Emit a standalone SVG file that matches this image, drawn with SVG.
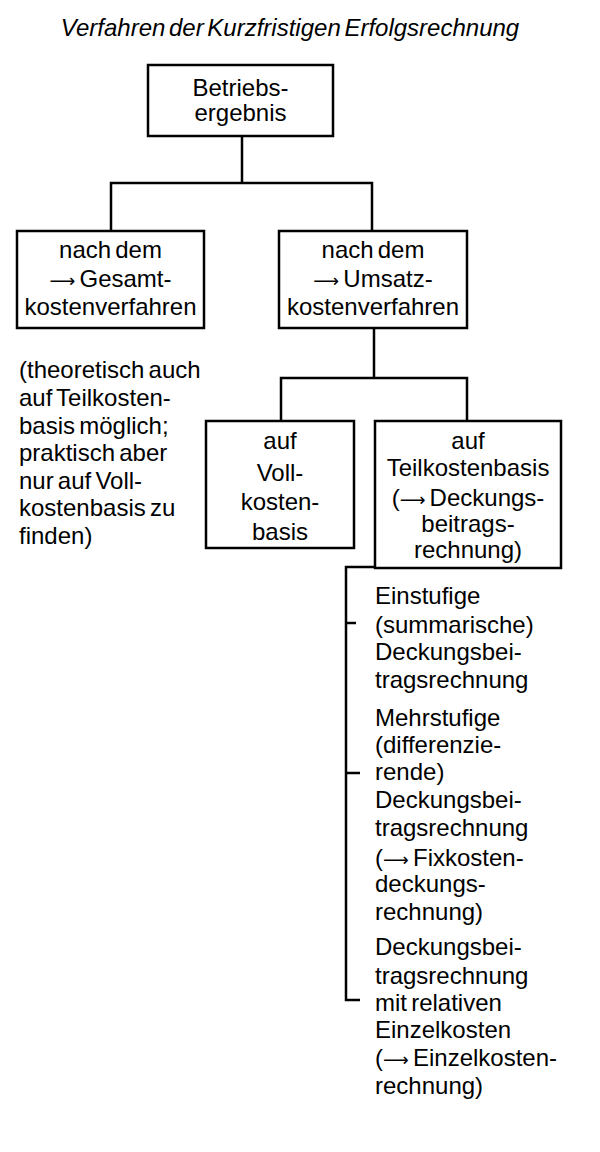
<svg xmlns="http://www.w3.org/2000/svg" width="600" height="1152" viewBox="0 0 600 1152">
<style>
text{font-family:"Liberation Sans",Arial,sans-serif;font-size:24px;fill:#000;word-spacing:-2.5px}
.c{text-anchor:middle}
.t{font-style:italic;font-size:24px;word-spacing:-3px}
.a{font-family:"DejaVu Sans",sans-serif;font-size:18px}
rect{fill:#fff;stroke:#000;stroke-width:2.5}
.l{fill:none;stroke:#000;stroke-width:2.5}
</style>
<rect x="0" y="0" width="600" height="1152" style="stroke:none"/>
<text class="t c" x="290" y="36">Verfahren der Kurzfristigen Erfolgsrechnung</text>
<g id="connectors">
<path class="l" d="M242 136V183M111 231V183H372V231"/>
<path class="l" d="M374 328V378M281 421V378H467V421"/>
<path class="l" d="M375 567H346V1000H360M346 623H356M346 773H360"/>
</g>
<g id="betriebsergebnis">
<rect x="148" y="65" width="185" height="71"/>
<text class="c" x="240.5" y="96">Betriebs-</text>
<text class="c" x="240.5" y="121">ergebnis</text>
</g>
<g id="gesamtkosten">
<rect x="17" y="231" width="187" height="97"/>
<text class="c" x="110.5" y="258">nach dem</text>
<text class="c" x="110.5" y="287"><tspan class="a">⟶</tspan> Gesamt-</text>
<text class="c" x="110.5" y="315">kostenverfahren</text>
</g>
<g id="umsatzkosten">
<rect x="279" y="231" width="188" height="97"/>
<text class="c" x="373" y="258">nach dem</text>
<text class="c" x="373" y="287"><tspan class="a">⟶</tspan> Umsatz-</text>
<text class="c" x="373" y="315">kostenverfahren</text>
</g>
<g id="anmerkung">
<text x="19" y="378">(theoretisch auch</text>
<text x="19" y="406">auf Teilkosten-</text>
<text x="19" y="434">basis möglich;</text>
<text x="19" y="461">praktisch aber</text>
<text x="19" y="489">nur auf Voll-</text>
<text x="19" y="516">kostenbasis zu</text>
<text x="19" y="544">finden)</text>
</g>
<g id="vollkosten">
<rect x="206" y="421" width="148" height="127"/>
<text class="c" x="280" y="449">auf</text>
<text class="c" x="280" y="481">Voll-</text>
<text class="c" x="280" y="510">kosten-</text>
<text class="c" x="280" y="540">basis</text>
</g>
<g id="teilkosten">
<rect x="375" y="421" width="186" height="147"/>
<text class="c" x="468" y="449">auf</text>
<text class="c" x="468" y="476">Teilkostenbasis</text>
<text class="c" x="468" y="506">(<tspan class="a">⟶</tspan> Deckungs-</text>
<text class="c" x="468" y="532">beitrags-</text>
<text class="c" x="468" y="558">rechnung)</text>
</g>
<g id="einstufige">
<text x="375" y="604">Einstufige</text>
<text x="375" y="633">(summarische)</text>
<text x="375" y="660">Deckungsbei-</text>
<text x="375" y="688">tragsrechnung</text>
</g>
<g id="mehrstufige">
<text x="375" y="726">Mehrstufige</text>
<text x="375" y="753">(differenzie-</text>
<text x="375" y="780">rende)</text>
<text x="375" y="808">Deckungsbei-</text>
<text x="375" y="836">tragsrechnung</text>
<text x="375" y="866">(<tspan class="a">⟶</tspan> Fixkosten-</text>
<text x="375" y="892">deckungs-</text>
<text x="375" y="920">rechnung)</text>
</g>
<g id="einzelkosten">
<text x="375" y="955">Deckungsbei-</text>
<text x="375" y="984">tragsrechnung</text>
<text x="375" y="1011">mit relativen</text>
<text x="375" y="1038">Einzelkosten</text>
<text x="375" y="1066">(<tspan class="a">⟶</tspan> Einzelkosten-</text>
<text x="375" y="1094">rechnung)</text>
</g>
</svg>
